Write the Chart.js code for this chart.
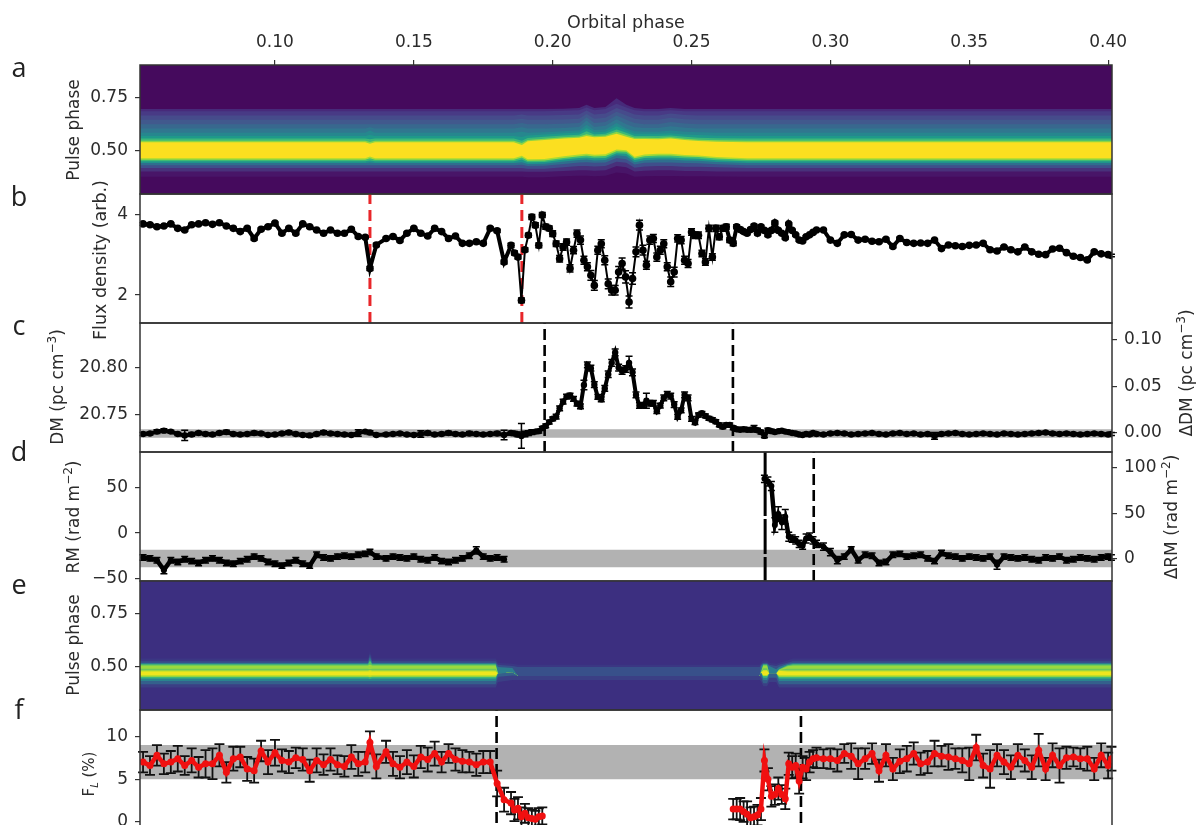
<!DOCTYPE html>
<html>
<head>
<meta charset="utf-8">
<title>Orbital phase panels</title>
<script src="https://cdn.jsdelivr.net/npm/chart.js@4"></script>
<style>
  html, body { margin: 0; padding: 0; background: #fff; width: 1199px; height: 825px; overflow: hidden; }
  canvas { position: absolute; left: 0; top: 0; }
  .t { position: absolute; font-family: "DejaVu Sans", sans-serif; font-size: 17px; color: #2b2b2b; white-space: nowrap; line-height: 1; }
  .r { transform: translate(-50%, -50%) rotate(-90deg); }
  .h { transform: translate(-50%, -50%); }
  .p { font-family: "Open Sans", sans-serif; font-size: 27px; color: #222; }
  sup { font-size: 12px; line-height: 0; }
  sub { font-size: 10px; line-height: 0; }
</style>
</head>
<body>
<div id="plots"></div>
<div class="t h" style="left:626px;top:23px;font-size:17.5px">Orbital phase</div>
<div class="t r" style="left:73px;top:130px">Pulse phase</div>
<div class="t r" style="left:101px;top:260px;font-size:17.5px">Flux density (arb.)</div>
<div class="t r" style="left:57px;top:387px">DM (pc cm<sup>−3</sup>)</div>
<div class="t r" style="left:73px;top:517px">RM (rad m<sup>−2</sup>)</div>
<div class="t r" style="left:73px;top:645px">Pulse phase</div>
<div class="t r" style="left:89px;top:774px;font-size:15px">F<sub><i>L</i></sub> (%)</div>
<div class="t r" style="left:1186px;top:373px">ΔDM (pc cm<sup>−3</sup>)</div>
<div class="t r" style="left:1171px;top:517px">ΔRM (rad m<sup>−2</sup>)</div>
<div class="t h p" style="left:19px;top:66px">a</div>
<div class="t h p" style="left:19px;top:195px">b</div>
<div class="t h p" style="left:19px;top:324px">c</div>
<div class="t h p" style="left:19px;top:450px">d</div>
<div class="t h p" style="left:19px;top:583px">e</div>
<div class="t h p" style="left:19px;top:708px">f</div>
<script>
const orbitalTicks = [0.10, 0.15, 0.20, 0.25, 0.30, 0.35, 0.40];
const pulseTicks = [0.50, 0.75];
const fluxTicks = [2, 4];
const dmTicks = [20.75, 20.80];
const deltaDmTicks = [0, 0.05, 0.10];
const rmTicks = [-50, 0, 50];
const deltaRmTicks = [0, 50, 100];
const fracTicks = [0, 5, 10];

const orbitalPhase = [
  0.0525,0.055,0.0575,0.06,0.0625,0.065,0.0675,0.07,0.0725,0.075,
  0.0775,0.08,0.0825,0.085,0.0875,0.09,0.0925,0.095,0.0975,0.10,
  0.1025,0.105,0.1075,0.11,0.1125,0.115,0.1175,0.12,0.1225,0.125,
  0.1275,0.13,0.1325,0.1342,0.1365,0.14,0.1425,0.145,0.1475,0.15,
  0.1525,0.155,0.1575,0.16,0.1625,0.165,0.1675,0.17,0.1725,0.175,
  0.1775,0.18,0.1825,0.185,0.18625,0.1875,0.18875,0.19,0.19125,0.1925,
  0.19375,0.195,0.19625,0.1975,0.19875,0.20,0.20125,0.2025,0.20375,0.205,
  0.20625,0.2075,0.20875,0.21,0.21125,0.2125,0.21375,0.215,0.21625,0.2175,
  0.21875,0.22,0.22125,0.2225,0.22375,0.225,0.22625,0.2275,0.22875,0.23,
  0.23125,0.2325,0.23375,0.235,0.23625,0.2375,0.23875,0.24,0.24125,0.2425,
  0.24375,0.245,0.24625,0.2475,0.24875,0.25,0.25125,0.2525,0.25375,0.255,
  0.25625,0.2575,0.25875,0.26,0.26125,0.2625,0.26375,0.265,0.26625,0.2675,
  0.26875,0.27,0.27125,0.2725,0.27375,0.275,0.27625,0.2775,0.27875,0.28,
  0.28125,0.2825,0.28375,0.285,0.28625,0.2875,0.28875,0.29,0.29125,0.2925,
  0.29375,0.295,0.2975,0.30,0.3025,0.305,0.3075,0.31,0.3125,0.315,
  0.3175,0.32,0.3225,0.325,0.3275,0.33,0.3325,0.335,0.3375,0.34,
  0.3425,0.345,0.3475,0.35,0.3525,0.355,0.3575,0.36,0.3625,0.365,
  0.3675,0.37,0.3725,0.375,0.3775,0.38,0.3825,0.385,0.3875,0.39,
  0.3925,0.395,0.3975,0.40,0.4012
];

const flux = [
  3.76,3.74,3.69,3.71,3.76,3.65,3.61,3.74,3.76,3.79,
  3.75,3.79,3.71,3.65,3.57,3.65,3.40,3.63,3.69,3.78,
  3.53,3.65,3.53,3.76,3.69,3.61,3.53,3.61,3.53,3.53,
  3.63,3.45,3.43,2.66,3.24,3.40,3.45,3.35,3.53,3.65,
  3.53,3.46,3.65,3.57,3.40,3.46,3.28,3.28,3.32,3.28,
  3.65,3.59,2.82,3.23,3.04,2.94,1.87,3.12,3.48,3.93,
  3.73,3.23,3.98,3.69,3.65,3.52,3.27,2.90,3.19,3.31,
  2.66,3.11,3.52,3.36,2.86,2.70,2.49,2.24,3.11,3.27,
  2.86,2.28,2.12,2.12,2.57,2.78,2.45,1.83,2.41,3.07,
  3.73,3.11,2.74,3.36,3.40,2.94,3.11,3.27,2.70,2.33,
  2.57,3.40,3.36,2.86,2.78,3.56,3.48,3.48,3.03,2.82,
  3.65,2.94,3.65,3.44,3.65,3.69,3.36,3.28,3.69,3.62,
  3.57,3.53,3.62,3.71,3.53,3.69,3.60,3.49,3.60,3.79,
  3.60,3.53,3.42,3.76,3.60,3.49,3.36,3.34,3.44,3.49,
  3.55,3.61,3.61,3.36,3.28,3.49,3.50,3.36,3.38,3.33,
  3.32,3.38,3.20,3.40,3.30,3.28,3.29,3.28,3.36,3.15,
  3.24,3.22,3.20,3.23,3.24,3.28,3.12,3.09,3.19,3.12,
  3.07,3.19,3.07,3.01,3.00,3.14,3.16,3.05,2.96,2.93,
  2.87,3.07,3.02,3.00,2.98
];
const fluxErr = [
  .03,.03,.03,.03,.03,.03,.03,.03,.03,.03,
  .03,.03,.03,.03,.03,.03,.04,.03,.03,.03,
  .03,.03,.03,.03,.03,.03,.03,.03,.03,.03,
  .03,.03,.03,.05,.04,.03,.03,.03,.03,.03,
  .03,.03,.03,.03,.03,.03,.03,.03,.03,.03,
  .04,.04,.05,.05,.05,.05,.06,.05,.05,.06,
  .06,.06,.06,.06,.06,.07,.07,.08,.08,.08,
  .09,.09,.09,.10,.10,.10,.12,.12,.10,.10,
  .11,.12,.12,.12,.14,.14,.15,.15,.14,.12,
  .12,.12,.10,.10,.10,.10,.10,.10,.10,.12,
  .12,.09,.09,.10,.10,.08,.08,.08,.08,.08,
  .08,.08,.08,.07,.07,.06,.06,.06,.05,.05,
  .04,.04,.04,.04,.04,.04,.04,.04,.04,.04,
  .03,.03,.03,.03,.03,.03,.03,.03,.03,.03,
  .03,.03,.03,.03,.03,.03,.03,.03,.03,.03,
  .03,.03,.03,.03,.03,.03,.03,.03,.03,.03,
  .03,.03,.03,.03,.03,.03,.03,.03,.03,.03,
  .03,.03,.03,.03,.03,.03,.03,.03,.03,.03,
  .03,.03,.03,.03,.03
];

const dm = [
  20.7300,20.7305,20.7325,20.7335,20.7325,20.7300,20.7285,20.7295,20.7310,20.7300,
  20.7295,20.7310,20.7320,20.7300,20.7295,20.7300,20.7310,20.7305,20.7290,20.7295,
  20.7305,20.7315,20.7300,20.7290,20.7285,20.7300,20.7315,20.7305,20.7300,20.7295,
  20.7290,20.7310,20.7325,20.7315,20.7290,20.7295,20.7300,20.7305,20.7295,20.7290,
  20.7300,20.7310,20.7295,20.7300,20.7310,20.7300,20.7295,20.7305,20.7300,20.7295,
  20.7300,20.7305,20.7290,20.7310,20.7305,20.7295,20.7280,20.7300,20.7310,20.7320,
  20.7325,20.7330,20.7360,20.7385,20.7425,20.7460,20.7483,20.7570,20.7640,20.7694,
  20.7705,20.7670,20.7620,20.7590,20.7817,20.8029,20.7994,20.7820,20.7690,20.7665,
  20.7780,20.7930,20.8050,20.8160,20.8000,20.7965,20.7985,20.8050,20.7950,20.7712,
  20.7600,20.7606,20.7650,20.7624,20.7624,20.7540,20.7600,20.7680,20.7719,20.7700,
  20.7610,20.7480,20.7550,20.7712,20.7680,20.7460,20.7420,20.7500,20.7518,20.7490,
  20.7465,20.7450,20.7430,20.7395,20.7375,20.7395,20.7395,20.7365,20.7350,20.7345,
  20.7350,20.7345,20.7345,20.7355,20.7340,20.7320,20.7280,20.7340,20.7330,20.7320,
  20.7330,20.7335,20.7325,20.7320,20.7310,20.7305,20.7295,20.7290,20.7300,20.7295,
  20.7310,20.7300,20.7295,20.7305,20.7310,20.7305,20.7295,20.7300,20.7305,20.7310,
  20.7300,20.7295,20.7305,20.7310,20.7300,20.7305,20.7295,20.7300,20.7280,20.7300,
  20.7305,20.7310,20.7300,20.7295,20.7300,20.7305,20.7300,20.7295,20.7305,20.7300,
  20.7295,20.7300,20.7305,20.7310,20.7315,20.7305,20.7300,20.7305,20.7300,20.7295,
  20.7300,20.7305,20.7300,20.7295,20.7300
];
const dmErr = [
  .0015,.0015,.0020,.0020,.0015,.0015,.0055,.0020,.0015,.0015,
  .0015,.0015,.0020,.0015,.0015,.0015,.0020,.0015,.0015,.0015,
  .0015,.0020,.0015,.0015,.0020,.0015,.0020,.0015,.0015,.0015,
  .0015,.0035,.0015,.0020,.0015,.0015,.0015,.0015,.0015,.0015,
  .0035,.0020,.0015,.0015,.0020,.0015,.0015,.0020,.0015,.0015,
  .0015,.0020,.0050,.0020,.0020,.0025,.0130,.0030,.0025,.0025,
  .0020,.0020,.0020,.0020,.0020,.0020,.0025,.0025,.0025,.0025,
  .0025,.0025,.0025,.0025,.0050,.0030,.0030,.0030,.0025,.0025,
  .0030,.0035,.0035,.0035,.0035,.0035,.0035,.0070,.0035,.0030,
  .0030,.0025,.0080,.0030,.0030,.0025,.0025,.0030,.0030,.0030,
  .0030,.0025,.0025,.0030,.0030,.0025,.0020,.0020,.0020,.0020,
  .0020,.0020,.0020,.0020,.0020,.0020,.0020,.0020,.0020,.0020,
  .0020,.0020,.0020,.0035,.0020,.0020,.0020,.0020,.0020,.0015,
  .0015,.0015,.0015,.0015,.0015,.0015,.0015,.0015,.0015,.0015,
  .0015,.0015,.0015,.0015,.0015,.0015,.0015,.0015,.0015,.0015,
  .0015,.0015,.0015,.0015,.0015,.0015,.0015,.0015,.0035,.0015,
  .0015,.0015,.0015,.0015,.0015,.0015,.0015,.0015,.0015,.0015,
  .0015,.0015,.0015,.0015,.0015,.0015,.0015,.0015,.0015,.0015,
  .0015,.0015,.0015,.0015,.0015
];

const rm = [
  -27,-28,-30,-41,-30,-32,-29,-31,-33,-30,
  -28,-30,-33,-34,-31,-29,-26,-28,-32,-34,
  -36,-33,-30,-34,-36,-24,-27,-28,-26,-25,
  -26,-24,-23,-21,-26,-28,-26,-27,-28,-26,
  -29,-30,-27,-31,-32,-30,-28,-25,-19,-26,
  -28,-27,-29,null,null,null,null,null,null,null,
  null,null,null,null,null,null,null,null,null,null,
  null,null,null,null,null,null,null,null,null,null,
  null,null,null,null,null,null,null,null,null,null,
  null,null,null,null,null,null,null,null,null,null,
  null,null,null,null,null,null,null,null,null,null,
  null,null,null,null,null,null,null,null,null,null,
  null,null,null,null,null,null,60,57,52,9,
  21,12,18,-4,-6,-8,-12,-14,-6,-4,
  -8,-12,-15,-21,-30,-26,-18,-30,-24,-25,
  -33,-32,-24,-23,-26,-25,-24,-28,-31,-22,
  -25,-26,-28,-26,-27,-28,-26,-35,-26,-27,
  -28,-27,-29,-30,-27,-28,-26,-30,-29,-27,
  -28,-29,-27,-26,-27
];
const rmErr = [
  3,3,3,4,3,3,3,3,3,3,
  3,3,3,3,3,3,3,3,3,3,
  3,3,3,3,3,3,3,3,3,3,
  3,3,3,3,3,3,3,3,3,3,
  3,3,3,3,3,3,3,3,4,3,
  3,3,3,0,0,0,0,0,0,0,
  0,0,0,0,0,0,0,0,0,0,
  0,0,0,0,0,0,0,0,0,0,
  0,0,0,0,0,0,0,0,0,0,
  0,0,0,0,0,0,0,0,0,0,
  0,0,0,0,0,0,0,0,0,0,
  0,0,0,0,0,0,0,0,0,0,
  0,0,0,0,0,0,4,5,5,8,
  8,8,8,5,4,4,4,4,5,4,
  4,4,4,4,4,3,3,3,3,3,
  3,3,3,3,3,3,3,3,3,3,
  3,3,3,3,3,3,3,5,3,3,
  3,3,3,3,3,3,3,3,3,3,
  3,3,3,3,3
];

const fracL = [
  7.0,6.6,7.8,6.8,7.0,7.4,6.6,7.2,6.4,6.8,
  6.8,7.8,5.8,7.4,7.6,6.2,6.0,8.3,7.0,8.1,
  7.2,7.0,7.5,7.3,6.0,7.2,6.7,7.3,6.7,6.5,
  7.6,6.8,7.0,9.3,6.5,8.2,6.8,6.4,7.0,6.5,
  7.6,7.3,8.0,7.0,8.0,7.3,7.1,7.0,6.7,7.0,
  7.0,4.5,2.6,2.2,1.4,1.6,0.6,1.0,0.5,0.4,
  0.3,0.6,0.7,null,null,null,null,null,null,null,
  null,null,null,null,null,null,null,null,null,null,
  null,null,null,null,null,null,null,null,null,null,
  null,null,null,null,null,null,null,null,null,null,
  null,null,null,null,null,null,null,null,null,null,
  null,null,null,null,null,null,null,1.5,1.5,1.5,
  1.2,0.9,0.5,0.6,0.8,1.5,7.2,5.0,3.0,3.2,
  3.9,3.2,2.7,6.8,6.4,6.6,4.8,6.4,6.2,7.0,
  7.4,7.5,7.4,7.4,7.2,8.0,7.7,6.8,7.4,8.0,
  6.0,7.8,6.2,7.1,7.4,8.0,6.8,7.0,8.0,7.7,
  7.6,7.4,7.2,6.8,8.7,6.6,6.2,7.8,7.0,6.4,
  7.8,7.2,6.4,8.4,6.2,7.8,6.6,7.5,7.6,7.4,
  7.4,6.2,7.8,6.6,7.4
];
const fracErr = [
  1.2,1.1,1.2,1.2,1.3,1.5,1.1,1.4,1.2,1.6,
  1.8,1.3,1.2,1.4,1.2,1.4,1.4,1.2,1.4,1.5,
  1.3,1.3,1.2,1.3,1.3,1.4,1.2,1.3,1.1,1.2,
  1.4,1.4,1.2,1.3,1.4,1.3,1.4,1.3,1.4,1.3,
  1.3,1.4,1.4,1.2,1.1,1.3,1.3,1.2,1.3,1.3,
  1.3,1.5,1.4,1.3,1.3,1.3,1.1,1.1,1.1,1.0,
  1.0,1.0,1.0,0,0,0,0,0,0,0,
  0,0,0,0,0,0,0,0,0,0,
  0,0,0,0,0,0,0,0,0,0,
  0,0,0,0,0,0,0,0,0,0,
  0,0,0,0,0,0,0,0,0,0,
  0,0,0,0,0,0,0,1.2,1.2,1.3,
  1.2,1.5,1.2,1.2,1.2,1.3,1.3,1.3,1.2,1.2,
  1.3,1.1,1.2,1.3,1.3,1.4,1.5,1.3,1.3,1.2,
  1.0,1.2,1.1,1.2,1.3,1.1,1.5,1.8,1.2,1.2,
  1.3,1.3,1.3,1.4,1.5,1.3,1.3,1.3,1.5,1.2,
  1.5,1.2,1.4,1.9,1.5,1.4,2.2,1.3,1.4,1.4,
  1.3,1.3,1.4,1.9,1.3,1.4,2.0,1.3,1.1,1.2,
  1.4,1.3,1.4,1.5,1.4
];

// pulse phase of the colour edges, one row per knot of orbital phase
const heatAPhase = [0.0514,0.10,0.1325,0.1342,0.136,0.17,0.186,0.1889,0.191,0.197,0.204,0.2095,0.2122,0.215,0.219,0.223,0.2265,0.2295,0.233,0.238,0.2425,0.2475,0.2525,0.259,0.27,0.29,0.35,0.4014];
const heatAColors = ['#450a5d','#472a7a','#483a85','#464b8b','#41598d','#38688e','#30778f','#26878e','#1f998a','#3cb878','#8cd544','#fbdf20','#a8db34','#3fbc73','#1f948c','#2f6f8e','#3f4f8b','#48317b','#481568','#450a5d'];
const heatAEdges = [
  [.695,.685,.665,.645,.625,.605,.585,.570,.558,.548,.541,.466,.459,.452,.444,.434,.421,.405,.380],
  [.695,.685,.665,.645,.625,.605,.585,.570,.558,.548,.541,.466,.459,.452,.444,.434,.421,.405,.380],
  [.695,.685,.665,.645,.625,.605,.585,.570,.558,.548,.541,.466,.459,.452,.444,.434,.421,.405,.380],
  [.695,.685,.665,.645,.625,.610,.595,.575,.555,.542,.534,.474,.466,.456,.446,.434,.421,.405,.380],
  [.695,.685,.665,.645,.625,.605,.585,.570,.558,.548,.541,.466,.459,.452,.444,.434,.421,.405,.380],
  [.695,.685,.665,.645,.625,.605,.585,.570,.558,.548,.541,.466,.459,.452,.444,.434,.421,.405,.380],
  [.695,.685,.665,.645,.625,.605,.585,.570,.558,.548,.541,.466,.459,.452,.444,.434,.421,.405,.380],
  [.695,.685,.670,.650,.630,.610,.590,.565,.548,.537,.528,.478,.470,.460,.448,.436,.421,.405,.380],
  [.695,.685,.665,.645,.625,.605,.585,.572,.560,.551,.545,.462,.455,.448,.440,.430,.418,.403,.378],
  [.695,.685,.665,.645,.625,.605,.587,.577,.566,.557,.551,.463,.456,.449,.441,.431,.418,.403,.378],
  [.697,.687,.667,.647,.627,.607,.592,.582,.572,.564,.558,.476,.468,.460,.451,.440,.425,.407,.382],
  [.700,.690,.670,.650,.630,.612,.596,.586,.576,.568,.562,.484,.476,.467,.458,.447,.430,.410,.385],
  [.715,.702,.688,.672,.657,.642,.622,.607,.592,.578,.570,.487,.479,.470,.460,.448,.430,.410,.385],
  [.700,.690,.670,.650,.630,.612,.598,.587,.577,.570,.564,.482,.475,.466,.456,.445,.428,.408,.383],
  [.705,.695,.675,.655,.635,.618,.600,.590,.580,.572,.566,.485,.477,.468,.458,.446,.430,.410,.385],
  [.745,.720,.700,.682,.665,.648,.630,.615,.600,.590,.580,.507,.499,.490,.480,.467,.450,.430,.400],
  [.715,.702,.685,.665,.645,.625,.605,.595,.585,.575,.566,.504,.496,.487,.476,.462,.445,.425,.395],
  [.700,.690,.670,.650,.630,.610,.592,.580,.570,.562,.556,.473,.466,.458,.448,.437,.422,.405,.380],
  [.695,.685,.665,.645,.625,.607,.590,.580,.570,.562,.556,.484,.476,.467,.457,.445,.428,.408,.383],
  [.695,.685,.665,.645,.625,.607,.590,.580,.570,.561,.555,.487,.479,.470,.460,.447,.430,.410,.384],
  [.700,.690,.675,.655,.635,.615,.595,.583,.572,.564,.558,.487,.479,.470,.460,.447,.430,.410,.384],
  [.695,.685,.668,.648,.628,.608,.590,.577,.566,.557,.551,.481,.474,.466,.456,.444,.427,.407,.382],
  [.695,.685,.665,.645,.625,.605,.587,.574,.562,.552,.546,.479,.472,.464,.455,.443,.427,.407,.382],
  [.695,.685,.665,.645,.625,.605,.585,.571,.559,.550,.543,.472,.465,.457,.449,.438,.424,.405,.381],
  [.695,.685,.665,.645,.625,.605,.585,.570,.558,.548,.541,.466,.459,.452,.444,.434,.421,.405,.380],
  [.695,.685,.665,.645,.625,.605,.585,.570,.558,.548,.541,.466,.459,.452,.444,.434,.421,.405,.380],
  [.695,.685,.665,.645,.625,.605,.585,.570,.558,.548,.541,.466,.459,.452,.444,.434,.421,.405,.380],
  [.695,.685,.665,.645,.625,.605,.585,.570,.558,.548,.541,.466,.459,.452,.444,.434,.421,.405,.380]
];

const heatEPhase = [0.0514,0.1335,0.1342,0.135,0.1795,0.1803,0.1855,0.1875,0.2745,0.275,0.2758,0.2772,0.278,0.2805,0.2815,0.2845,0.2865,0.4014];
const heatEColors = ['#3c2f80','#3b3783','#38508a','#2c7d8e','#4fc06d','#9ad93f','#6cc95a','#c5e02a','#efe51e','#b3dc2c','#3fb878','#2a848e','#34608c','#3b3f85','#3c2f80'];
const heatEEdges = [
  [.540,.527,.519,.513,.507,.492,.484,.478,.462,.455,.446,.435,.420,.405],
  [.540,.527,.519,.513,.507,.492,.484,.478,.462,.455,.446,.435,.420,.405],
  [.575,.560,.545,.530,.512,.490,.486,.480,.460,.452,.444,.435,.420,.405],
  [.540,.527,.519,.513,.507,.492,.484,.478,.462,.455,.446,.435,.420,.405],
  [.540,.527,.519,.513,.507,.492,.484,.478,.462,.455,.446,.435,.420,.405],
  [.520,.510,.500,.470,.470,.470,.470,.470,.470,.470,.470,.470,.455,.430],
  [.515,.505,.495,.475,.475,.475,.475,.475,.475,.475,.475,.475,.460,.440],
  [.510,.500,.4581,.4581,.4581,.4581,.4581,.4581,.4581,.4581,.4581,.4581,.4581,.4400],
  [.510,.500,.4581,.4581,.4581,.4581,.4581,.4581,.4581,.4581,.4581,.4581,.4581,.4400],
  [.520,.510,.505,.475,.475,.475,.475,.475,.475,.475,.475,.475,.455,.435],
  [.530,.520,.515,.512,.507,.494,.486,.480,.463,.458,.450,.440,.425,.410],
  [.530,.520,.515,.512,.507,.494,.486,.480,.463,.458,.450,.440,.425,.410],
  [.520,.510,.505,.470,.470,.470,.470,.470,.470,.470,.470,.470,.450,.430],
  [.515,.505,.490,.470,.470,.470,.470,.470,.470,.470,.470,.470,.450,.430],
  [.520,.510,.500,.490,.487,.486,.485,.483,.462,.455,.446,.435,.420,.405],
  [.530,.520,.514,.508,.503,.492,.484,.478,.462,.455,.446,.435,.420,.405],
  [.540,.527,.519,.513,.507,.492,.484,.478,.462,.455,.446,.435,.420,.405],
  [.540,.527,.519,.513,.507,.492,.484,.478,.462,.455,.446,.435,.420,.405]
];

const flareLines = [0.1342, 0.1889];
const dmLines = [0.1971, 0.2649];
const rmLines = [0.2765, 0.294];
const fracLines = [0.1798, 0.2894];
const dmBand = [20.7261, 20.7349];
const rmBand = [-37.8, -18.5];
const fracBand = [5.0, 9.0];
const fluxBusyRange = [0.185, 0.262];

const PAGE_W = 1199, PAGE_H = 860, RIGHT_W = 87;
const X_MIN = 0.0514, X_MAX = 0.4014;
const TICK_FONT = { family: "DejaVu Sans", size: 17 };

function axisLook(ticks, digits) {
  return {
    afterBuildTicks: s => { s.ticks = ticks.map(v => ({ value: v })); },
    ticks: {
      font: TICK_FONT, color: '#2b2b2b', padding: 7, maxRotation: 0,
      callback: v => v.toFixed(digits).replace('-', '\u2212')
    },
    grid: { display: true, drawOnChartArea: false, drawTicks: true, tickLength: 5, color: '#333', lineWidth: 1.2 },
    border: { display: false }
  };
}

function yAxis(min, max, ticks, digits, position) {
  const w = position === 'right' ? RIGHT_W : 140;
  return Object.assign(axisLook(ticks, digits), { type: 'linear', position: position, min: min, max: max, afterFit: s => { s.width = w; } });
}

function pts(xs, ys) { return xs.map((x, i) => ({ x: x, y: ys[i] })); }

function vline(x, yr, color, width, dash, order) {
  return { data: [{ x: x, y: yr[0] }, { x: x, y: yr[1] }], showLine: true, pointRadius: 0, borderColor: color, borderWidth: width, borderDash: dash, order: order };
}

function band(r) {
  return {
    data: [{ x: X_MIN, y: r[1] }, { x: X_MAX, y: r[1] }], showLine: true, pointRadius: 0, borderWidth: 0,
    backgroundColor: '#b2b2b2', fill: { target: { value: r[0] } }, order: 9
  };
}

function series(ys, errs, color, radius, width, capColor, cap, capWidth) {
  return {
    data: pts(orbitalPhase, ys), errs: errs, capColor: capColor, cap: cap, capWidth: capWidth,
    showLine: true, borderColor: color, borderWidth: width, pointRadius: radius,
    pointBackgroundColor: color, pointBorderColor: color, pointBorderWidth: 0, order: 1
  };
}

// colour bands painted top down, each filled to the bottom of the panel
function heatSets(phase, edges, colors, yTop) {
  const sets = [];
  colors.forEach((c, i) => {
    const ys = i === 0 ? phase.map(() => yTop) : edges.map(r => r[i - 1]);
    sets.push({ data: pts(phase, ys), showLine: true, pointRadius: 0, borderWidth: 0, backgroundColor: c, fill: 'start', order: colors.length - i });
  });
  return sets;
}

const frame = {
  id: 'frame',
  afterDraw(c) {
    const a = c.chartArea, g = c.ctx;
    g.save();
    g.strokeStyle = '#333';
    g.lineWidth = 1.5;
    g.strokeRect(a.left, a.top, a.right - a.left, a.bottom - a.top);
    g.restore();
  }
};

const errorBars = {
  id: 'errorBars',
  beforeDatasetDraw(c, args) {
    const d = c.data.datasets[args.index];
    if (!d.errs) return;
    const g = c.ctx, sx = c.scales.x, sy = c.scales.y;
    g.save();
    g.strokeStyle = d.capColor;
    g.lineWidth = d.capWidth;
    d.data.forEach((p, i) => {
      if (p.y === null || !d.errs[i]) return;
      const x = sx.getPixelForValue(p.x);
      const y0 = sy.getPixelForValue(p.y - d.errs[i]);
      const y1 = sy.getPixelForValue(p.y + d.errs[i]);
      g.beginPath();
      g.moveTo(x, y0); g.lineTo(x, y1);
      g.moveTo(x - d.cap, y0); g.lineTo(x + d.cap, y0);
      g.moveTo(x - d.cap, y1); g.lineTo(x + d.cap, y1);
      g.stroke();
    });
    g.restore();
  }
};

function panel(top, bottom, datasets, scales, hasRight) {
  const cv = document.createElement('canvas');
  cv.width = PAGE_W;
  cv.height = PAGE_H;
  document.getElementById('plots').appendChild(cv);
  const isTop = top === 65;
  const xAxis = Object.assign(axisLook(orbitalTicks, 2), {
    type: 'linear', min: X_MIN, max: X_MAX, position: 'top', display: isTop,
    afterFit: s => { s.height = isTop ? 65 : 0; }
  });
  return new Chart(cv, {
    type: 'scatter',
    data: { datasets: datasets },
    options: {
      responsive: false, animation: false, events: [],
      layout: { padding: { left: 0, right: hasRight ? 0 : RIGHT_W, top: isTop ? 0 : top, bottom: PAGE_H - bottom } },
      plugins: { legend: { display: false }, tooltip: { enabled: false } },
      scales: Object.assign({ x: xAxis }, scales)
    },
    plugins: [frame, errorBars]
  });
}

panel(65, 194, heatSets(heatAPhase, heatAEdges, heatAColors, 0.90),
  { y: yAxis(0.30, 0.90, pulseTicks, 2, 'left') }, false);

const fluxSet = series(flux, fluxErr, '#000', 3.8, 3.5, '#000', 3.5, 1.5);
fluxSet.segment = {
  borderWidth: s => (s.p0.parsed.x >= fluxBusyRange[0] && s.p1.parsed.x <= fluxBusyRange[1]) ? 2 : 4
};
panel(194, 323, [
  fluxSet,
  vline(flareLines[0], [1.31, 4.5], '#e8262a', 3, [11, 6], 2),
  vline(flareLines[1], [1.31, 4.5], '#e8262a', 3, [11, 6], 2)
], { y: yAxis(1.31, 4.5, fluxTicks, 0, 'left') }, false);

panel(323, 452, [
  series(dm, dmErr, '#000', 3.2, 4, '#000', 3.5, 1.5),
  band(dmBand),
  vline(dmLines[0], [20.711, 20.847], '#000', 2.6, [11, 5], 2),
  vline(dmLines[1], [20.711, 20.847], '#000', 2.6, [11, 5], 2)
], {
  y: yAxis(20.711, 20.847, dmTicks, 2, 'left'),
  y2: yAxis(-0.0204, 0.118, deltaDmTicks, 2, 'right')
}, true);

panel(452, 581, [
  series(rm, rmErr, '#000', 3, 4.5, '#000', 3.5, 1.5),
  band(rmBand),
  vline(rmLines[0], [-53, 89.7], '#000', 3, [24, 3, 35, 3, 90, 0], 2),
  vline(rmLines[1], [-53, 89.7], '#000', 2.6, [11, 5], 2)
], {
  y: yAxis(-53, 89.7, rmTicks, 0, 'left'),
  y2: yAxis(-24.6, 117.7, deltaRmTicks, 0, 'right')
}, true);

panel(581, 710, heatSets(heatEPhase, heatEEdges, heatEColors, 0.90),
  { y: yAxis(0.30, 0.90, pulseTicks, 2, 'left') }, false);

panel(710, 839, [
  series(fracL, fracErr, '#f01010', 3.5, 4.5, '#111', 5, 1.8),
  band(fracBand),
  vline(fracLines[0], [-2, 13.1], '#000', 2.6, [11, 5], 2),
  vline(fracLines[1], [-2, 13.1], '#000', 2.6, [11, 5], 2)
], { y: yAxis(-2, 13.1, fracTicks, 0, 'left') }, false);
</script>
</body>
</html>
